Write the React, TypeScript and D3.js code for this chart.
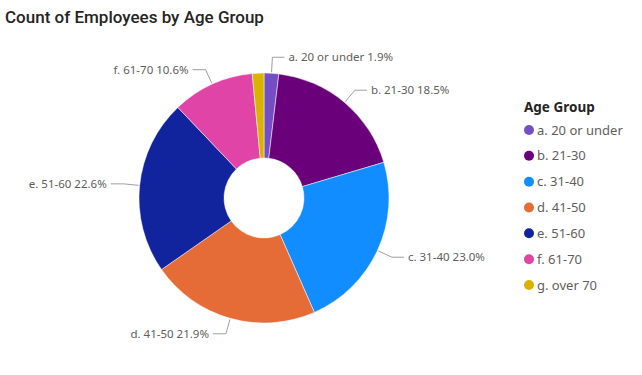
import { useEffect, useRef } from "react";
import * as d3 from "d3";

const categories = ["a. 20 or under", "b. 21-30", "c. 31-40", "d. 41-50", "e. 51-60", "f. 61-70", "g. over 70"];
const shares = [1.9, 18.5, 23.0, 21.9, 22.6, 10.6, 1.5];
const colors = ["#744EC2", "#6B007B", "#118DFF", "#E66C37", "#12239E", "#E044A7", "#D9B300"];
const labelled = [true, true, true, true, true, true, false];

interface Slice {
  label: string;
  value: number;
  color: string;
  show: boolean;
}

const data: Slice[] = categories.map((c, i) => ({
  label: c,
  value: shares[i],
  color: colors[i],
  show: labelled[i],
}));

export default function App() {
  const svgRef = useRef<SVGSVGElement | null>(null);

  useEffect(() => {
    if (!svgRef.current) return;
    const svg = d3.select(svgRef.current);
    svg.selectAll("*").remove();

    const width = 642;
    const height = 375;
    const cx = 264;
    const cy = 198;
    const radius = 125;
    const labelFont = "'Segoe UI', 'Noto Sans', sans-serif";

    svg.attr("width", width).attr("height", height);

    svg
      .append("text")
      .attr("x", 5)
      .attr("y", 23)
      .attr("fill", "#252423")
      .style("font-family", "'DIN', 'Roboto', sans-serif")
      .style("font-size", "17px")
      .style("font-weight", 500)
      .text("Count of Employees by Age Group");

    const g = svg.append("g").attr("transform", `translate(${cx}, ${cy})`);

    const pie = d3
      .pie<Slice>()
      .value((d) => d.value)
      .sort(null);

    const arcGen = d3
      .arc<d3.PieArcDatum<Slice>>()
      .innerRadius(40)
      .outerRadius(radius);

    const arcs = pie(data);

    g.selectAll("path")
      .data(arcs)
      .enter()
      .append("path")
      .attr("d", (d) => arcGen(d)!)
      .attr("fill", (d) => d.data.color)
      .attr("stroke", "#fff")
      .style("stroke-width", "0.5px");

    // leader lines + labels
    const shown = arcs.filter((d) => d.data.show);
    shown.forEach((d) => {
      const mid = (d.startAngle + d.endAngle) / 2;
      const sx = Math.sin(mid);
      const sy = -Math.cos(mid);
      const right = sx >= 0;
      const p1: [number, number] = [sx * (radius + 1), sy * (radius + 1)];
      const p2: [number, number] = [sx * (radius + 16), sy * (radius + 16)];
      const p3: [number, number] = [p2[0] + (right ? 12 : -13), p2[1]];

      g.append("polyline")
        .attr("points", [p1, p2, p3].map((p) => p.join(",")).join(" "))
        .attr("fill", "none")
        .attr("stroke", "#a19f9d")
        .attr("stroke-width", 1);

      g.append("text")
        .attr("x", p3[0] + (right ? 4 : -4))
        .attr("y", p3[1])
        .attr("dy", "0.35em")
        .attr("text-anchor", right ? "start" : "end")
        .attr("fill", "#605E5C")
        .style("font-family", labelFont)
        .style("font-size", "11.5px")
        .text(`${d.data.label} ${d.data.value.toFixed(1)}%`);
    });

    // legend
    const legend = svg.append("g").attr("transform", "translate(524, 0)");
    legend
      .append("text")
      .attr("x", 0)
      .attr("y", 112)
      .attr("fill", "#252423")
      .style("font-family", labelFont)
      .style("font-size", "13.5px")
      .style("font-weight", 700)
      .text("Age Group");

    const rowY = d3
      .scalePoint<string>()
      .domain(categories)
      .range([130, 285]);

    const rows = legend
      .selectAll("g.row")
      .data(data)
      .enter()
      .append("g")
      .attr("class", "row")
      .attr("transform", (d) => `translate(0, ${rowY(d.label)})`);

    rows
      .append("circle")
      .attr("cx", 5)
      .attr("cy", 0)
      .attr("r", 5)
      .attr("fill", (d) => d.color);

    rows
      .append("text")
      .attr("x", 13)
      .attr("y", 0)
      .attr("dy", "0.35em")
      .attr("fill", "#605E5C")
      .style("font-family", labelFont)
      .style("font-size", "13px")
      .text((d) => d.label);
  }, []);

  return (
    <div style={{ position: "absolute", left: 0, top: 0, background: "#fff" }}>
      <svg ref={svgRef} style={{ display: "block" }} />
    </div>
  );
}
